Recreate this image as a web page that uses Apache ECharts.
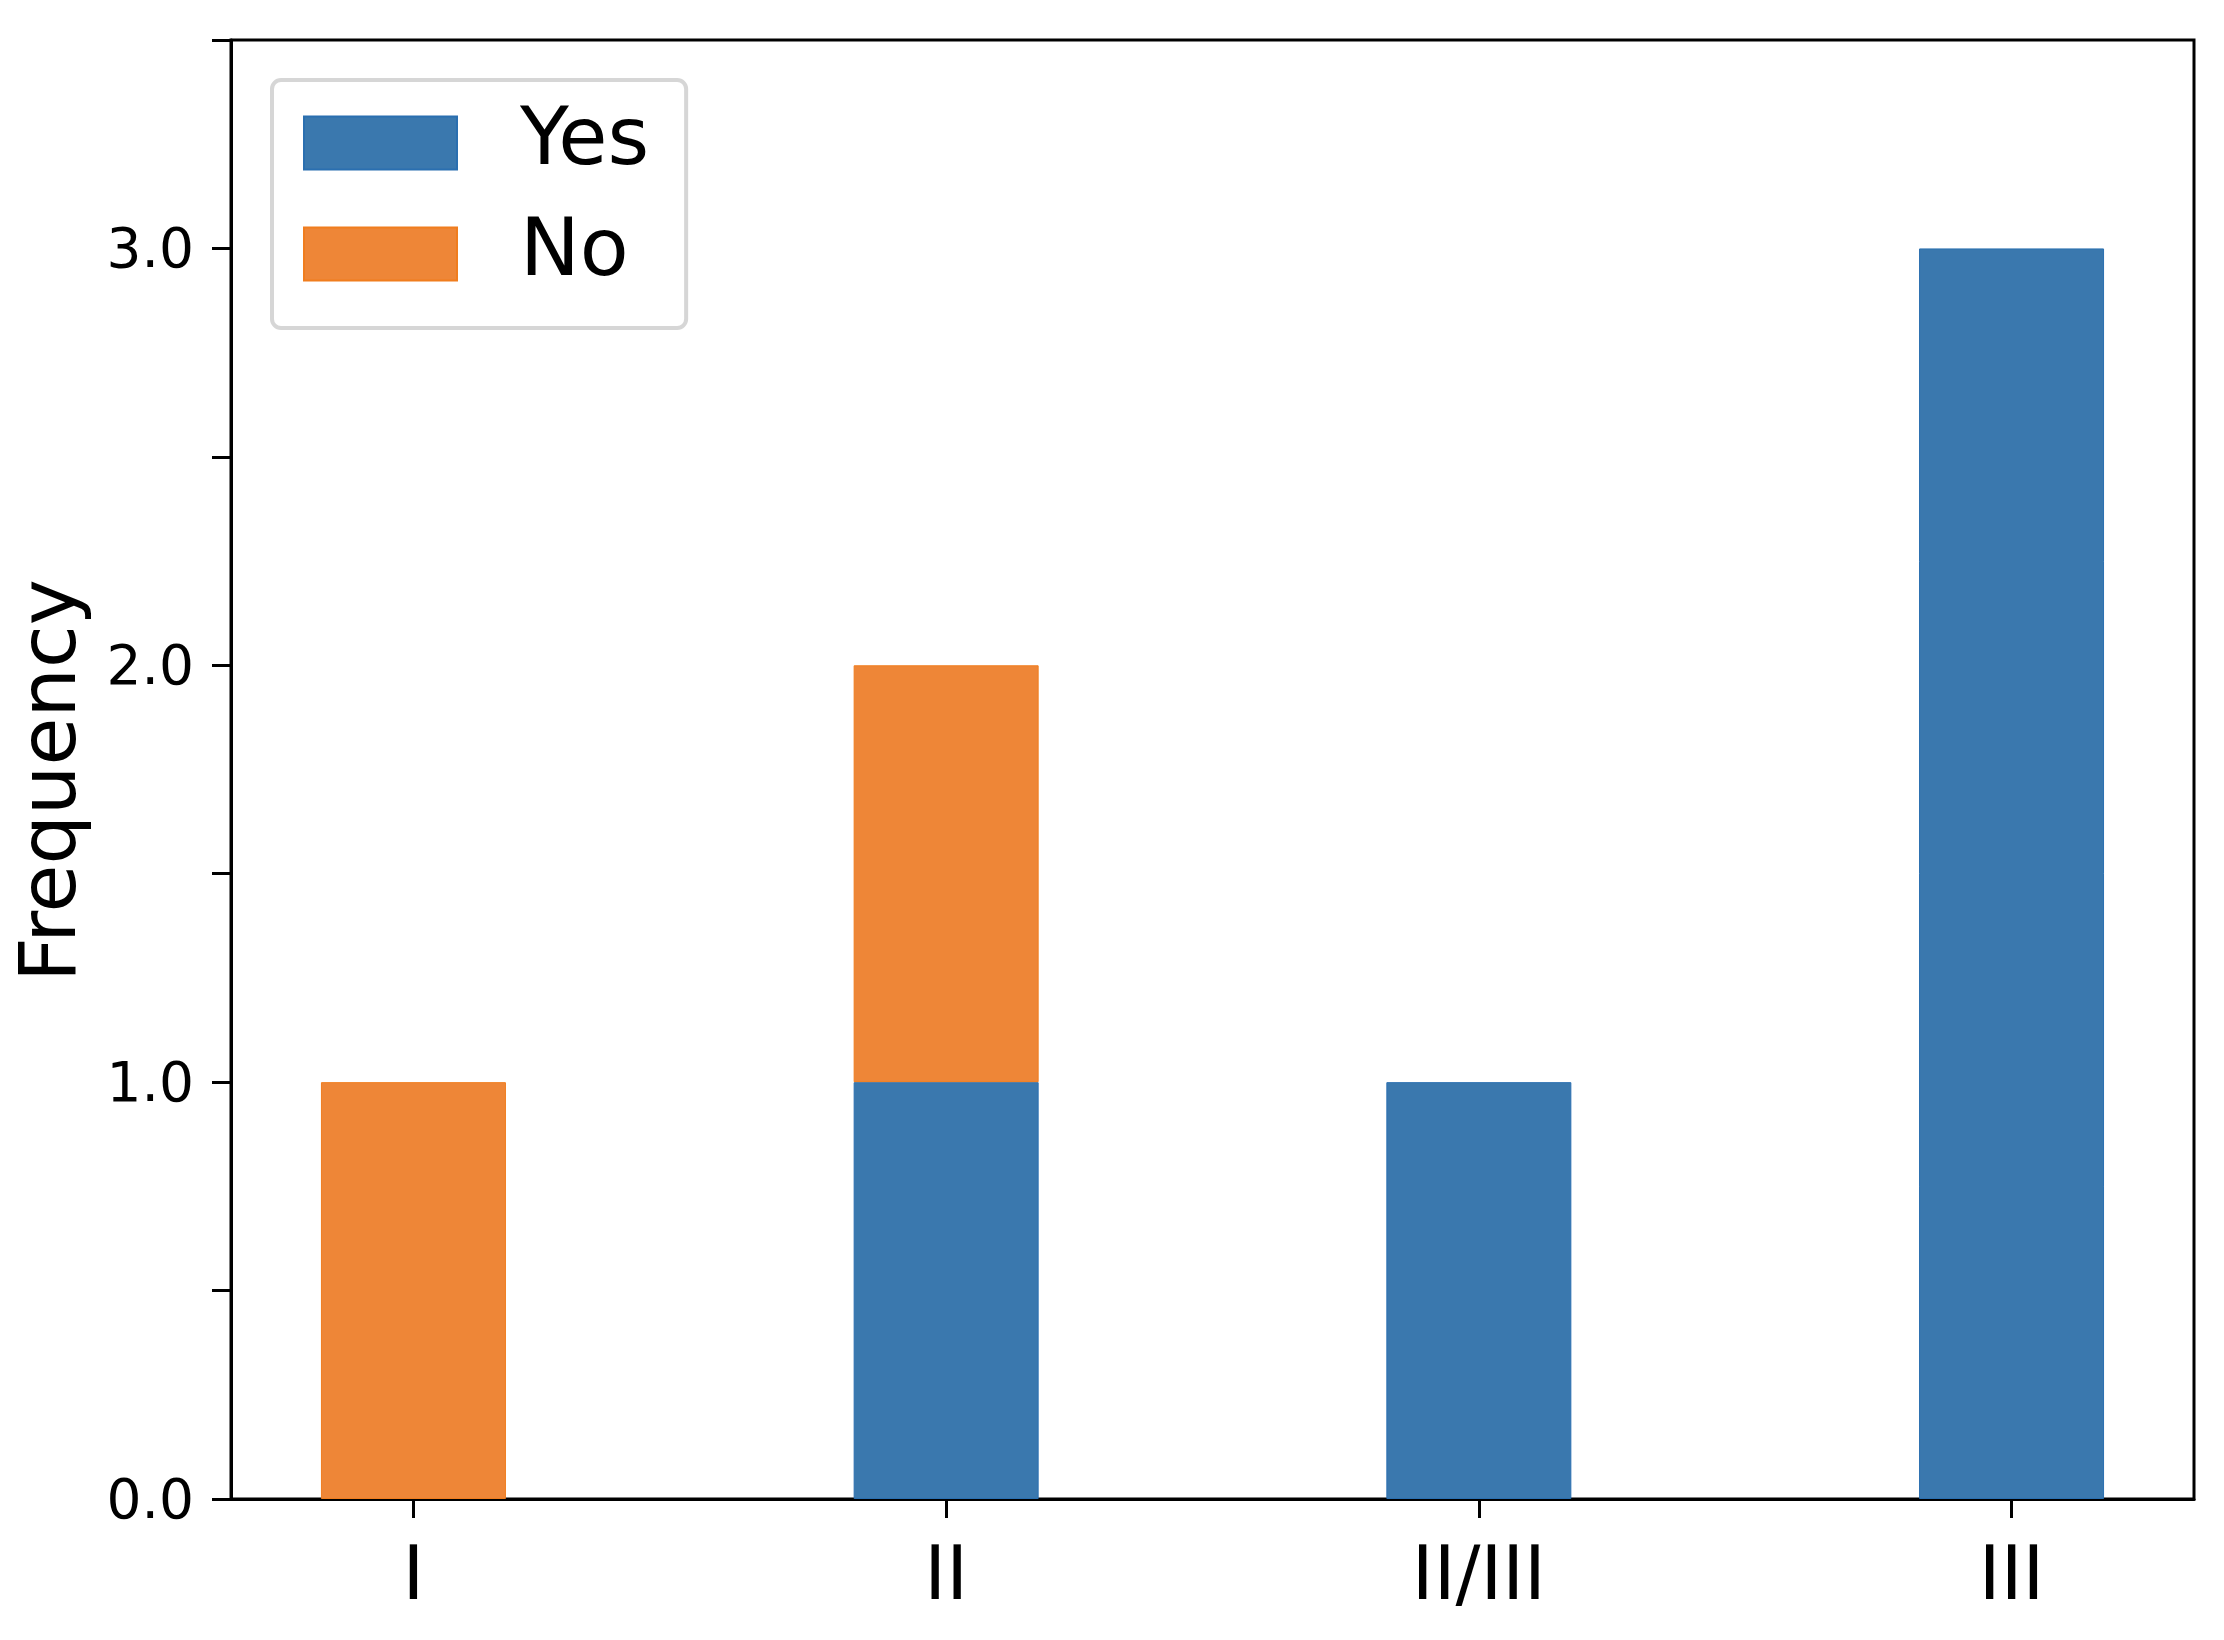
<!DOCTYPE html>
<html>
<head>
<meta charset="utf-8">
<script src="https://cdn.jsdelivr.net/npm/echarts@6/dist/echarts.min.js"></script>
<style>
  html, body { margin: 0; padding: 0; background: #fff; }
  #main { width: 2224px; height: 1640px; }
</style>
</head>
<body>
<div id="main"></div>
<script>
var categories = ['I', 'II', 'II/III', 'III'];
var yesValues = [0, 1, 1, 3];
var noValues = [1, 1, 0, 0];
var yTicks = [0, 1, 2, 3];

var myChart = echarts.init(document.getElementById('main'));

// rows are [value, position] so the stack runs on the value column
function toRows(vals) {
    return vals.map(function (v, i) {
        return [v === 0 ? null : v, i];
    });
}
var catPos = categories.map(function (c, i) { return i; });

var font = 'DejaVu Sans';

var option = {
    backgroundColor: '#fff',
    animation: false,
    textStyle: { fontFamily: font },
    grid: {
        left: 231,
        right: 30,
        top: 40,
        bottom: 141,
        show: true,
        borderColor: '#000',
        borderWidth: 3,
        containLabel: false
    },
    legend: {
        orient: 'vertical',
        left: 272,
        top: 80,
        data: ['Yes', 'No'],
        icon: 'rect',
        itemWidth: 153,
        itemHeight: 53,
        itemGap: 31,
        padding: [23, 37, 34, 31],
        backgroundColor: '#fff',
        borderColor: '#d6d6d6',
        borderWidth: 4,
        borderRadius: 9,
        selectedMode: false,
        textStyle: {
            fontFamily: font,
            fontSize: 80,
            color: '#000',
            padding: [0, 0, 0, 58]
        }
    },
    xAxis: {
        type: 'value',
        min: -0.3425,
        max: 3.3425,
        splitLine: { show: false },
        axisLine: { show: true, onZero: false, lineStyle: { color: '#000', width: 3 } },
        axisTick: {
            show: true,
            customValues: catPos,
            length: 19,
            lineStyle: { color: '#000', width: 3 }
        },
        axisLabel: {
            customValues: catPos,
            margin: 44,
            fontSize: 74,
            color: '#000',
            fontFamily: font,
            formatter: function (v) {
                return categories[Math.round(v)];
            }
        }
    },
    yAxis: {
        type: 'value',
        min: 0,
        max: 3.5,
        interval: 0.5,
        name: 'Frequency',
        nameLocation: 'middle',
        nameGap: 137,
        nameTextStyle: { fontSize: 78, color: '#000', fontFamily: font, padding: [0, 22, 0, 0] },
        splitLine: { show: false },
        axisLine: { show: true, onZero: false, lineStyle: { color: '#000', width: 3 } },
        axisTick: { show: true, length: 19, lineStyle: { color: '#000', width: 3 } },
        axisLabel: {
            margin: 37,
            color: '#000',
            fontFamily: font,
            rich: {
                t: { fontSize: 55, fontFamily: font, color: '#000', padding: [9, 0, 0, 0] }
            },
            formatter: function (v) {
                return yTicks.indexOf(v) >= 0 ? '{t|' + v.toFixed(1) + '}' : '';
            }
        }
    },
    series: [
        {
            name: 'Yes',
            type: 'bar',
            stack: 'total',
            barWidth: 185,
            encode: { x: 1, y: 0 },
            data: toRows(yesValues),
            itemStyle: { color: '#3a78ae', borderColor: '#2a6fb0', borderWidth: 1 }
        },
        {
            name: 'No',
            type: 'bar',
            stack: 'total',
            barWidth: 185,
            encode: { x: 1, y: 0 },
            data: toRows(noValues),
            itemStyle: { color: '#ee8637', borderColor: '#f07d1e', borderWidth: 1 }
        }
    ]
};
myChart.setOption(option);
</script>
</body>
</html>
